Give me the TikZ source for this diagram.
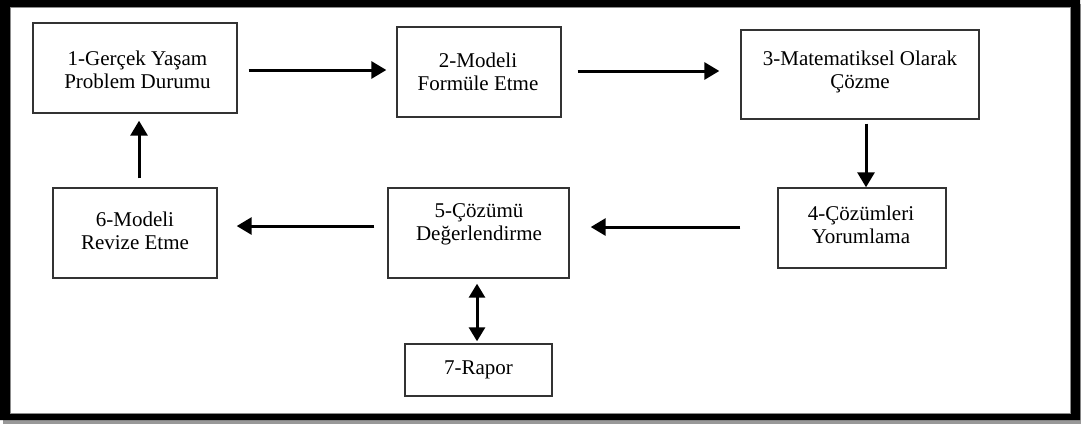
\documentclass[tikz,border=0pt]{standalone}
\usepackage{fontspec}
\setmainfont{Liberation Serif}
\usetikzlibrary{arrows.meta}
\begin{document}
\begin{tikzpicture}[x=1pt,y=-1pt,
  stepbox/.style={draw=black!80, line width=1.4pt, inner sep=0pt},
  txt/.style={align=center, inner sep=0pt, font=\fontsize{21}{23}\selectfont},
  arr/.style={line width=3pt, -{Triangle[length=15pt,width=17pt]}},
  dblarr/.style={line width=3pt, {Triangle[length=14pt,width=16pt]}-{Triangle[length=14pt,width=16pt]}}]
\useasboundingbox (0,0) rectangle (1081,424);
\fill[white] (0,0) rectangle (1081,424);
% drop shadow and thick frame
\fill[black!40] (3,420) rectangle (1081,424);
\fill[black!40] (1080,4) rectangle (1081,424);
\fill[black, even odd rule] (0,0) rectangle (1080,420) (10,7) rectangle (1070,413);
\draw[black!45, line width=0.8pt] (10,7) rectangle (1070,413);

% boxes
\node[stepbox, minimum width=204pt, minimum height=90pt] (b1) at (135,68) {};
\node[stepbox, minimum width=164pt, minimum height=90pt] (b2) at (479,72) {};
\node[stepbox, minimum width=238pt, minimum height=89pt] (b3) at (860,74.5) {};
\node[stepbox, minimum width=168pt, minimum height=80pt] (b4) at (862,228) {};
\node[stepbox, minimum width=181pt, minimum height=90pt] (b5) at (478.5,233) {};
\node[stepbox, minimum width=164pt, minimum height=90pt] (b6) at (135,233) {};
\node[stepbox, minimum width=147pt, minimum height=52pt] (b7) at (478.5,370) {};

% texts
\node[txt] (t1) at (137.5,70) {1-Gerçek Yaşam\\Problem Durumu};
\node[txt] (t2) at (478,72) {2-Modeli\\Formüle Etme};
\node[txt] (t3) at (860,72) {3-Matematiksel Olarak\\Çözme};
\node[txt] (t4) at (861,225) {4-Çözümleri\\Yorumlama};
\node[txt] (t5) at (479,224) {5-Çözümü\\Değerlendirme};
\node[txt] (t6) at (135,231) {6-Modeli\\Revize Etme};
\node[txt] (t7) at (478.5,370) {7-Rapor};

% connectors
\draw[arr] ([xshift=11pt,yshift=-2pt]b1.east) -- ([xshift=-10pt,yshift=2pt]b2.west);
\draw[arr] ([xshift=16pt,yshift=1pt]b2.east) -- ([xshift=-21pt,yshift=3.5pt]b3.west);
\draw[arr] ([xshift=6pt,yshift=-4pt]b3.south) -- ([xshift=4pt]b4.north);
\draw[arr] ([xshift=-37pt,yshift=1pt]b4.west) -- ([xshift=21pt,yshift=6pt]b5.east);
\draw[arr] ([xshift=-13pt,yshift=7pt]b5.west) -- ([xshift=19pt,yshift=7pt]b6.east);
\draw[arr] ([xshift=4pt,yshift=9pt]b6.north) -- ([xshift=4pt,yshift=-7pt]b1.south);
\draw[dblarr] ([xshift=-1.5pt,yshift=-5pt]b5.south) -- ([xshift=-1.5pt,yshift=2pt]b7.north);
\end{tikzpicture}
\end{document}
